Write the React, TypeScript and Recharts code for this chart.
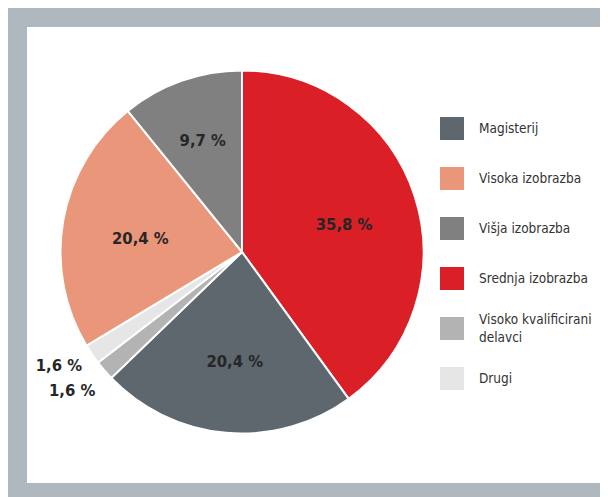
import { PieChart, Pie, Cell, Legend } from "recharts";

const categories = ["Srednja izobrazba", "Magisterij", "Visoko kvalificirani delavci", "Drugi", "Visoka izobrazba", "Višja izobrazba"];
const shares = [35.8, 20.4, 1.6, 1.6, 20.4, 9.7];
const colors = ["#da1f26", "#5e666e", "#b3b3b3", "#e6e6e6", "#ea967a", "#808080"];
const legendOrder = ["Magisterij", "Visoka izobrazba", "Višja izobrazba", "Srednja izobrazba", "Visoko kvalificirani delavci", "Drugi"];

const data = categories.map((name, i) => ({ name, value: shares[i], color: colors[i] }));

const FONT = '"Liberation Sans Narrow", "DejaVu Sans Condensed", "Roboto", sans-serif';
const RAD = Math.PI / 180;

// outside labels for the thin slices get stacked so they don't collide
const smallLabelY: Record<number, number> = {};

function SliceLabel(props: any) {
  const { cx, cy, midAngle, outerRadius, index, value } = props;
  const fmt = `${String(value).replace(".", ",")} %`;
  const style = { fontFamily: FONT, fontSize: 16.5, fontWeight: 700 };
  if (value < 5) {
    const r = outerRadius + 12;
    const x = cx + r * Math.cos(-midAngle * RAD);
    let y = cy + r * Math.sin(-midAngle * RAD) + 4;
    const prev = smallLabelY[index + 1];
    if (prev !== undefined) y = Math.max(y, prev + 25);
    smallLabelY[index] = y;
    return (
      <text x={x} y={y} textAnchor="end" dominantBaseline="central" fill="#262626" style={style}>
        {fmt}
      </text>
    );
  }
  const r = outerRadius * (value < 15 ? 0.68 : 0.58);
  const x = cx + r * Math.cos(-midAngle * RAD) + 2;
  const y = cy + r * Math.sin(-midAngle * RAD) + 5;
  return (
    <text x={x} y={y} textAnchor="middle" dominantBaseline="central" fill="#262626" style={style}>
      {fmt}
    </text>
  );
}

function LegendBox() {
  return (
    <div style={{ fontFamily: FONT, fontSize: 13.5, color: "#333", whiteSpace: "nowrap" }}>
      {legendOrder.map((name) => {
        const d = data.find((x) => x.name === name)!;
        const lines = name === "Visoko kvalificirani delavci" ? ["Visoko kvalificirani", "delavci"] : [name];
        return (
          <div key={name} style={{ display: "flex", alignItems: "center", height: 50 }}>
            <div style={{ width: 24, height: 23, background: d.color, marginRight: 15, flexShrink: 0 }} />
            <div style={{ lineHeight: "18px" }}>
              {lines.map((l) => (
                <div key={l}>{l}</div>
              ))}
            </div>
          </div>
        );
      })}
    </div>
  );
}

export default function App() {
  return (
    <div style={{ width: 600, height: 489, background: "#b0b8bf", position: "relative" }}>
      <div style={{ position: "absolute", left: 19, top: 19, width: 575, height: 456, background: "#fff" }}>
        <PieChart width={575} height={456} margin={{ top: 0, right: 0, bottom: 0, left: 0 }}>
          <Pie
            data={data}
            dataKey="value"
            nameKey="name"
            cx={215}
            cy={225}
            outerRadius={181.5}
            startAngle={90}
            endAngle={-270}
            stroke="#fff"
            strokeWidth={2}
            label={SliceLabel}
            labelLine={false}
            isAnimationActive={false}
          >
            {data.map((d) => (
              <Cell key={d.name} fill={d.color} />
            ))}
          </Pie>
          <Legend
            layout="vertical"
            content={<LegendBox />}
            wrapperStyle={{ left: 413, top: 76, width: 162 }}
          />
        </PieChart>
      </div>
    </div>
  );
}
